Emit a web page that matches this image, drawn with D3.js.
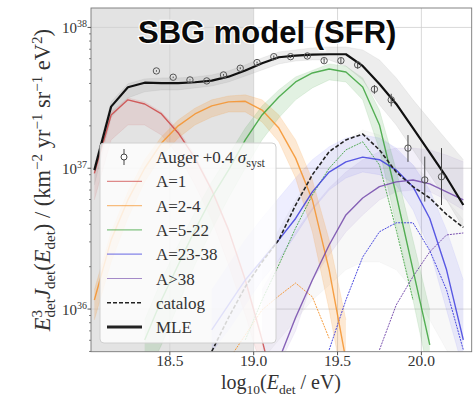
<!DOCTYPE html>
<html><head><meta charset="utf-8">
<script src="https://cdn.jsdelivr.net/npm/d3@7"></script>
<style>body{margin:0;background:#fff;}svg{display:block;}</style>
</head><body>
<svg id="c" width="474" height="398"></svg>
<script>
const _ = null;
// log10(E_det/eV) bin centres
const energyBins = [18.05,18.15,18.25,18.35,18.45,18.55,18.65,18.75,18.85,18.95,19.05,19.15,19.25,19.35,19.45,19.55,19.65,19.75,19.85,19.95,20.05,20.15,20.25];
// all fluxes in units of 1e37 km^-2 yr^-1 sr^-1 eV^2
const mle      = [0.97,2.74,3.76,4.05,4.02,4.02,4.08,4.19,4.47,4.94,5.57,6.14,6.31,6.41,6.45,6.45,5.33,3.96,2.86,1.93,1.29,0.86,0.548];
const mleLo    = [0.76,2.28,3.16,3.49,3.6,3.6,3.72,3.84,4.1,4.52,4.99,5.51,5.78,5.88,5.88,5.31,4.24,2.82,2.03,1.35,0.90,0.596,0.376];
const mleHi    = [1.055,2.96,3.98,4.31,4.38,4.38,4.45,4.6,4.91,5.42,6.07,6.7,6.92,7.15,7.27,7.27,6.92,5.88,4.38,3.06,2.20,1.59,1.15];
const a1       = [0.92,2.39,3.06,2.86,2.43,1.78,1.18,0.70,0.365,0.161,0.0604,0.02,_,_,_,_,_,_,_,_,_,_,_];
const a1Lo     = [0.596,1.59,2.03,2.03,1.72,1.24,0.76,0.43,0.206,0.0908,0.037,_,_,_,_,_,_,_,_,_,_,_,_];
const a1Hi     = [0.97,2.51,3.16,2.96,2.51,1.87,1.24,0.725,0.377,0.166,0.0655,_,_,_,_,_,_,_,_,_,_,_,_];
const a2_4     = [0.116,0.31,0.596,1.0,1.51,2.0,2.43,2.77,2.96,2.99,2.59,1.93,1.18,0.596,0.19,0.0435,_,_,_,_,_,_,_];
const a2_4Lo   = [0.0837,0.216,0.443,0.80,1.22,1.64,2.03,2.31,2.51,2.51,2.13,1.54,0.853,0.353,0.0986,0.0227,_,_,_,_,_,_,_];
const a2_4Hi   = [0.137,0.353,0.68,1.15,1.67,2.20,2.67,3.06,3.26,3.32,3.06,2.39,1.59,0.826,0.31,0.0837,_,_,_,_,_,_,_];
const a5_22    = [_,_,_,0.0604,0.116,0.206,0.365,0.62,0.97,1.59,2.39,3.21,4.1,4.75,5.07,4.83,3.78,2.03,0.646,0.19,0.0556,_,_];
const a5_22Lo  = [_,_,_,0.0314,0.0556,0.107,0.206,0.365,0.615,1.0,1.59,2.28,3.06,3.72,4.24,4.1,3.06,1.35,0.396,0.116,0.0314,_,_];
const a5_22Hi  = [_,_,_,0.0837,0.161,0.285,0.49,0.80,1.24,1.93,2.77,3.6,4.45,4.95,5.51,5.31,4.38,2.59,0.97,0.31,0.0986,_,_];
const a23_38   = [_,_,_,_,_,_,_,0.0711,0.107,0.161,0.223,0.31,0.44,0.68,0.94,1.11,1.2,1.15,0.97,0.74,0.44,0.19,0.0604];
const a23_38Lo = [_,_,_,_,_,_,_,0.0496,0.0711,0.107,0.161,0.223,0.336,0.506,0.70,0.853,0.94,0.90,0.76,0.506,0.263,0.0986,0.037];
const a23_38Hi = [_,_,_,_,_,_,_,0.137,0.206,0.31,0.443,0.615,0.853,1.15,1.42,1.64,1.72,1.64,1.39,1.055,0.70,0.365,0.161];
const a38      = [_,_,_,_,_,_,_,_,_,_,_,0.0435,0.087,0.161,0.285,0.466,0.615,0.74,0.80,0.825,0.774,0.68,0.596];
const a38Lo    = [_,_,_,_,_,_,_,_,_,_,0.03,0.04,0.07,0.161,0.242,0.353,0.466,0.596,0.68,0.70,0.68,0.596,0.506];
const a38Hi    = [_,_,_,_,_,_,_,_,_,_,0.137,0.223,0.353,0.522,0.725,0.94,1.15,1.31,1.39,1.39,1.35,1.24,1.11];
const catalog  = [_,_,_,_,_,_,_,0.05,0.087,0.144,0.216,0.31,0.548,0.90,1.31,1.59,1.75,1.35,0.94,0.74,0.615,0.47,0.38];
const catLo    = [_,_,_,_,_,_,_,_,_,_,0.0435,0.0604,0.0837,0.116,0.148,0.19,0.216,0.216,0.19,0.137,0.0837,0.0513,0.0314];
const catHi    = [_,_,_,_,_,_,_,_,_,_,0.223,0.365,0.596,0.90,1.24,1.59,1.87,1.72,1.35,1.055,0.826,0.596,0.43];
const catA2_4  = [_,_,_,_,_,_,_,_,0.0435,0.0655,0.0986,0.124,0.153,0.122,0.062,_,_,_,_,_,_,_,_];
const catA5_22 = [_,_,_,_,_,_,_,_,_,0.0604,0.116,0.206,0.376,0.646,1.0,1.35,1.54,1.055,0.365,0.116,_,_,_];
const catA23_38= [_,_,_,_,_,_,_,_,_,_,_,_,_,_,0.0513,0.116,0.234,0.354,0.41,0.41,0.26,0.137,0.0513];
const catA38   = [_,_,_,_,_,_,_,_,_,_,_,_,_,_,_,_,_,0.0513,0.107,0.17,0.255,0.336,0.347];
// Auger data (+0.4 sigma_syst)
const augerE   = [18.42,18.52,18.62,18.72,18.82,18.92,19.02,19.12,19.22,19.32,19.42,19.52,19.62,19.72,19.82,19.92,20.02,20.12];
const augerF   = [4.91,4.43,4.24,4.17,4.60,5.13,5.63,6.2,6.2,6.27,5.81,5.81,5.42,3.64,3.06,1.39,0.826,0.87];
const augerLo  = [4.85,4.38,4.2,4.12,4.54,5.05,5.54,6.08,6.06,6.1,5.6,5.55,5.1,3.38,2.75,1.11,0.58,0.548];
const augerHi  = [4.97,4.48,4.28,4.22,4.66,5.21,5.72,6.32,6.34,6.44,6.02,6.07,5.74,3.9,3.38,1.72,1.21,1.39];
const xTicks = [18.5,19.0,19.5,20.0];
const yTicks = [0.1,1,10];
const yTickExp = ["36","37","38"];
const legendLabels = ["Auger +0.4 ","A=1","A=2-4","A=5-22","A=23-38","A>38","catalog","MLE"];

const L=91,R=471.7,T=8,B=351.7;
const x=d3.scaleLinear().domain([18.03,20.3]).range([L,R]);
const y=d3.scaleLog().domain([0.0498,13.74]).range([B,T]);
const svg=d3.select('#c');
const serif="'Liberation Serif','Times New Roman',serif";

svg.append('defs').append('clipPath').attr('id','clip').append('rect')
  .attr('x',L).attr('y',T).attr('width',R-L).attr('height',B-T);

// shaded region below 10^19 eV
svg.append('rect').attr('x',x(18.03)).attr('y',T).attr('width',x(19.0)-x(18.03)).attr('height',B-T).attr('fill','#e3e3e3');

// grid
const grid=svg.append('g').attr('stroke','#cfcfcf').attr('stroke-width',0.8);
grid.selectAll('.gx').data(xTicks).join('line').attr('x1',d=>x(d)).attr('x2',d=>x(d)).attr('y1',T).attr('y2',B);
grid.selectAll('.gy').data(yTicks).join('line').attr('y1',d=>y(d)).attr('y2',d=>y(d)).attr('x1',L).attr('x2',R);

const plot=svg.append('g').attr('clip-path','url(#clip)');
function band(lo,hi,color,op){
  const data=energyBins.map((e,i)=>({e,lo:lo[i],hi:hi[i]}));
  const ar=d3.area().defined(d=>d.lo!=null&&d.hi!=null).x(d=>x(d.e)).y0(d=>y(d.lo)).y1(d=>y(d.hi));
  plot.append('path').attr('d',ar(data)).attr('fill',color).attr('fill-opacity',op);
  const ln=d3.line().defined(d=>d.v!=null).x(d=>x(d.e)).y(d=>y(d.v));
  [lo,hi].forEach(s=>plot.append('path').attr('d',ln(energyBins.map((e,i)=>({e,v:s[i]})))).attr('fill','none').attr('stroke',color).attr('stroke-opacity',op*1.2).attr('stroke-width',0.6));
}
function curve(vals,color,w,op,dash){
  const ln=d3.line().defined(d=>d.v!=null).x(d=>x(d.e)).y(d=>y(d.v));
  const p=plot.append('path').attr('d',ln(energyBins.map((e,i)=>({e,v:vals[i]})))).attr('fill','none')
    .attr('stroke',color).attr('stroke-width',w).attr('stroke-opacity',op).attr('stroke-linejoin','round');
  if(dash) p.attr('stroke-dasharray',dash);
}
const C={r:'#cc3d3d',o:'#f5922a',g:'#2f9e2f',b:'#3535dd',p:'#6b3fa6'};
band(catLo,catHi,'#8a8a8a',0.06);
band(a38Lo,a38Hi,'#7b55c0',0.09);
band(a23_38Lo,a23_38Hi,'#4545ff',0.09);
band(a1Lo,a1Hi,C.r,0.11);
band(a2_4Lo,a2_4Hi,C.o,0.2);
band(a5_22Lo,a5_22Hi,C.g,0.14);
band(mleLo,mleHi,'#888',0.15);
curve(catA2_4,C.o,1,0.9,'2,1');
curve(catA5_22,C.g,1,0.8,'2,1');
curve(catA23_38,C.b,1,0.9,'2,1');
curve(catA38,C.p,1,0.9,'2,1');
curve(a1,C.r,1.4,0.8);
curve(a2_4,C.o,1.4,0.85);
curve(a5_22,C.g,1.4,0.8);
curve(a23_38,C.b,1.4,0.8);
curve(a38,C.p,1.4,0.8);
curve(catalog,'#222',1.6,1,'4,2');
curve(mle,'#111',2.2,1);

// Auger points
const ag=plot.append('g');
ag.selectAll('.eb').data(augerE).join('line').attr('x1',d=>x(d)).attr('x2',d=>x(d))
  .attr('y1',(d,i)=>y(augerLo[i])).attr('y2',(d,i)=>y(augerHi[i])).attr('stroke','#444').attr('stroke-width',1);
ag.selectAll('circle').data(augerE).join('circle').attr('cx',d=>x(d)).attr('cy',(d,i)=>y(augerF[i])).attr('r',3.2)
  .attr('fill','none').attr('stroke','#555').attr('stroke-width',1);

// frame
svg.append('rect').attr('x',L).attr('y',T).attr('width',R-L).attr('height',B-T).attr('fill','none').attr('stroke','#777').attr('stroke-width',0.9);

// x axis ticks
const xa=svg.append('g');
xa.selectAll('line').data(xTicks).join('line').attr('x1',d=>x(d)).attr('x2',d=>x(d)).attr('y1',B).attr('y2',B+3.5).attr('stroke','#555');
xa.selectAll('text').data(xTicks).join('text').attr('x',d=>x(d)).attr('y',B+14.5).attr('text-anchor','middle')
  .attr('font-family',serif).attr('font-size',15.5).attr('fill','#333').text(d=>d3.format('.1f')(d));
// y axis ticks
const ya=svg.append('g');
const minor=[];
[0.01,0.1,1,10].forEach(dec=>{for(let k=2;k<=9;k++){const v=dec*k; if(v>0.0498&&v<13.74) minor.push(v);}});
ya.selectAll('.mn').data(minor).join('line').attr('x1',L-2).attr('x2',L).attr('y1',d=>y(d)).attr('y2',d=>y(d)).attr('stroke','#555').attr('stroke-width',0.7);
ya.selectAll('.mj').data(yTicks).join('line').attr('x1',L-3.5).attr('x2',L).attr('y1',d=>y(d)).attr('y2',d=>y(d)).attr('stroke','#555');
const yt=ya.selectAll('text').data(yTicks).join('text').attr('x',L-4).attr('y',d=>y(d)+6).attr('text-anchor','end')
  .attr('font-family',serif).attr('font-size',15).attr('fill','#333');
yt.append('tspan').text('10');
yt.append('tspan').attr('dy',-6).attr('font-size',10).text((d,i)=>yTickExp[i]);

// axis labels
const xl=svg.append('text').attr('x',281).attr('y',388.5).attr('text-anchor','middle').attr('font-family',serif).attr('font-size',20).attr('fill','#333');
xl.append('tspan').text('log');
xl.append('tspan').attr('dy',5).attr('font-size',13.5).text('10');
xl.append('tspan').attr('dy',-5).text('(');
xl.append('tspan').attr('font-style','italic').text('E');
xl.append('tspan').attr('dy',5).attr('font-size',13.5).text('det');
xl.append('tspan').attr('dy',-5).text(' / eV)');

const yl=svg.append('text').attr('transform','translate(50,180) rotate(-90)').attr('text-anchor','middle')
  .attr('font-family',serif).attr('font-size',22.5).attr('fill','#333');
yl.append('tspan').attr('font-style','italic').text('E');
yl.append('tspan').attr('dy',-8).attr('font-size',15).text('3');
yl.append('tspan').attr('dy',13).attr('dx',-7.5).attr('font-size',15).text('det');
yl.append('tspan').attr('dy',-5).attr('font-style','italic').text('J');
yl.append('tspan').attr('dy',5).attr('font-size',15).text('det');
yl.append('tspan').attr('dy',-5).text('(');
yl.append('tspan').attr('font-style','italic').text('E');
yl.append('tspan').attr('dy',5).attr('font-size',15).text('det');
yl.append('tspan').attr('dy',-5).text(') / (km');
yl.append('tspan').attr('dy',-8).attr('font-size',15).text('−2');
yl.append('tspan').attr('dy',8).text(' yr');
yl.append('tspan').attr('dy',-8).attr('font-size',15).text('−1');
yl.append('tspan').attr('dy',8).text(' sr');
yl.append('tspan').attr('dy',-8).attr('font-size',15).text('−1');
yl.append('tspan').attr('dy',8).text(' eV');
yl.append('tspan').attr('dy',-8).attr('font-size',15).text('2');
yl.append('tspan').attr('dy',8).text(')');

// legend
const lg=svg.append('g');
lg.append('rect').attr('x',100).attr('y',143).attr('width',176).attr('height',200).attr('rx',4)
  .attr('fill','#fff').attr('fill-opacity',0.82).attr('stroke','#d0d0d0');
const legendStyles=[
  {c:'#444'},{c:C.r,w:1.2,o:0.6},{c:C.o,w:1.2,o:0.6},{c:C.g,w:1.2,o:0.6},{c:C.b,w:1.2,o:0.6},{c:C.p,w:1.2,o:0.6},
  {c:'#222',w:1.6,o:1,d:'4,2'},{c:'#222',w:3,o:1}];
legendLabels.forEach((lab,i)=>{
  const yy=157+i*24.3, st=legendStyles[i];
  if(i===0){
    lg.append('line').attr('x1',124).attr('x2',124).attr('y1',yy-8).attr('y2',yy+8).attr('stroke','#444');
    lg.append('circle').attr('cx',124).attr('cy',yy).attr('r',3).attr('fill','#fff').attr('stroke','#444');
  } else {
    const l=lg.append('line').attr('x1',107).attr('x2',142).attr('y1',yy).attr('y2',yy).attr('stroke',st.c)
      .attr('stroke-width',st.w).attr('stroke-opacity',st.o);
    if(st.d) l.attr('stroke-dasharray',st.d);
  }
  const t=lg.append('text').attr('x',156).attr('y',yy+6).attr('font-family',serif).attr('font-size',17).attr('fill','#333');
  t.append('tspan').text(lab);
  if(i===0){
    t.append('tspan').attr('font-style','italic').text('σ');
    t.append('tspan').attr('dy',4).attr('font-size',12).text('syst');
  }
});

// title
svg.append('text').attr('x',138).attr('y',43).attr('font-family',"'Liberation Sans',Arial,sans-serif")
  .attr('font-weight','bold').attr('font-size',31).attr('fill','#0a0a0a')
  .attr('stroke','#fff').attr('stroke-width',2.5).attr('paint-order','stroke').text('SBG model (SFR)');
</script>
</body></html>
